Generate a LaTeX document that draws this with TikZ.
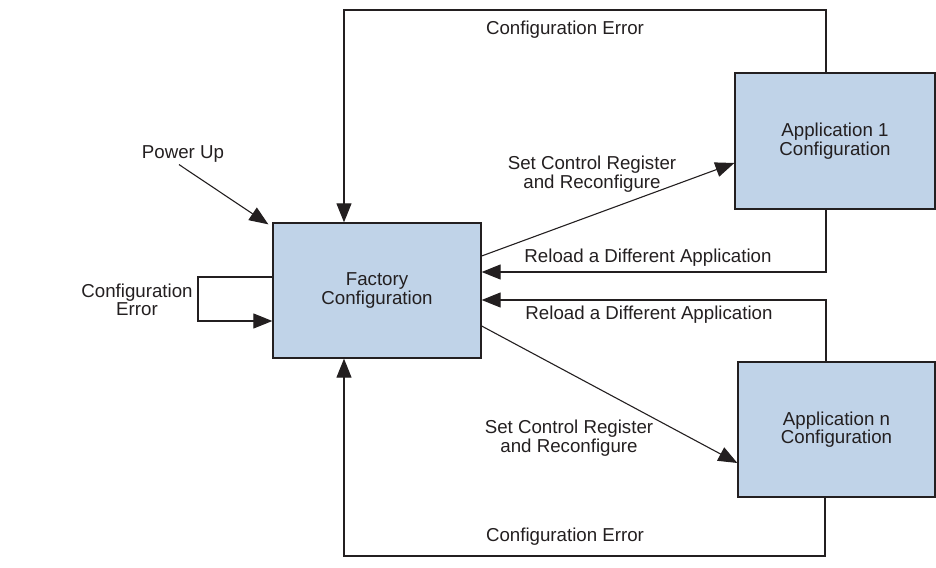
\documentclass[tikz,border=0pt]{standalone}
\usepackage{fontspec}
\setmainfont{Liberation Sans}
\usepackage{tikz}
\usetikzlibrary{arrows.meta}

\definecolor{boxblue}{RGB}{192,211,232}
\definecolor{inkgray}{RGB}{35,31,32}

\tikzset{
  cfgbox/.style={draw=inkgray,fill=boxblue,line width=1.3pt,inner sep=0pt,align=center,text=inkgray},
  lbl/.style={align=center,text=inkgray,inner sep=0pt},
  arr/.style={draw=inkgray,line width=1.1pt,-{Triangle[length=19pt,width=15pt]}},
  ln/.style={draw=inkgray,line width=1.1pt}
}

\begin{document}
\begin{tikzpicture}[x=1pt,y=-1pt,font=\fontsize{18.7}{18.5}\selectfont]
\useasboundingbox (0,0) rectangle (936,567);
% boxes
\node[cfgbox,minimum width=208pt,minimum height=135pt] (fact) at (377,290.5) {Factory\\Configuration};
\node[cfgbox,minimum width=200pt,minimum height=136pt] (app1) at (835,141) {Application 1\\Configuration};
\node[cfgbox,minimum width=197pt,minimum height=135pt] (appn) at (836.5,429.5) {Application n\\Configuration};
% corner points of the return lines
\coordinate (topR) at (826,10);
\coordinate (topL) at (344,10);
\coordinate (rel1) at (826,272);
\coordinate (rel2) at (826,300);
\coordinate (botR) at (825,556);
\coordinate (botL) at (344,556);
\coordinate (loop) at (198,299);
% labels
\node[lbl] (pwr) at (183,154) {Power Up};
\node[lbl] (errTop) at (565,30) {Configuration Error};
\node[lbl] (errBot) at (565,537) {Configuration Error};
\node[lbl] (errLoop) at (137,300) {Configuration\\Error};
\node[lbl] (relTxt1) at (648,258) {Reload a Different Application};
\node[lbl] (relTxt2) at (649,315) {Reload a Different Application};
\node[lbl] (setTxt1) at (592,174) {Set Control Register\\and Reconfigure};
\node[lbl] (setTxt2) at (569,438) {Set Control Register\\and Reconfigure};
% connectors
\draw[arr] ([xshift=-4pt,yshift=-2pt]pwr.south) -- ([xshift=-4pt,yshift=-2pt]fact.north west);
\draw[arr] ([yshift=13.5pt]fact.west) -| (loop) |- ([yshift=-30.5pt]fact.west);
\draw[arr] (topR |- app1.north) -- (topR) -- (topL) -- (topL |- fact.north);
\draw[arr] (rel1 |- app1.south) -- (rel1) -- (rel1 -| fact.east);
\draw[arr] (rel2 |- appn.north) -- (rel2) -- (rel2 -| fact.east);
\draw[arr] (botR |- appn.south) -- (botR) -- (botL) -- (botL |- fact.south);
\draw[arr] ([yshift=34.5pt]fact.east) -- ([yshift=-22pt]app1.west);
\draw[arr] ([yshift=-35.5pt]fact.east) -- ([yshift=-33.5pt]appn.west);
\end{tikzpicture}
\end{document}
